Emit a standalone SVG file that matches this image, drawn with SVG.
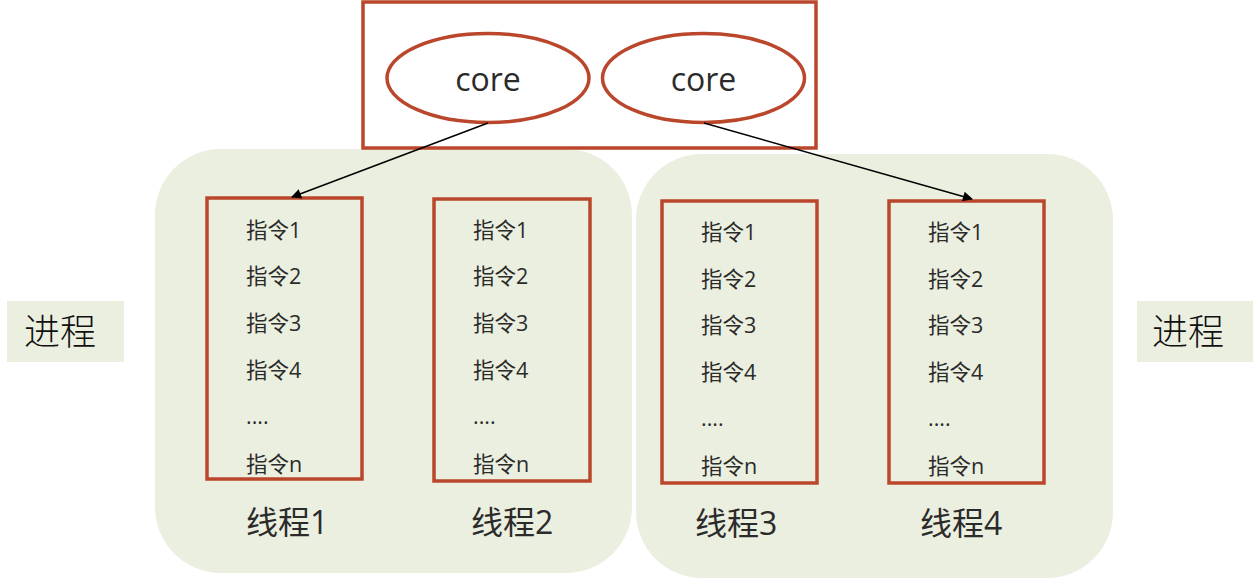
<svg xmlns="http://www.w3.org/2000/svg" width="1253" height="579" viewBox="0 0 1253 579">
<defs>
<style>
.panel{fill:#EBEFDF;stroke:none}
.red{fill:none;stroke:#BA472B;stroke-width:3.5}
.core{fill:#FFFFFF;stroke:#BA472B;stroke-width:3.5}
.t{font-family:"Open Sans","Noto Sans CJK SC",sans-serif;fill:#2b2b2b}
.ins{font-size:21.5px}
.lbl{font-size:32px}
.corel{font-size:32px;text-anchor:middle}
.proc{font-family:"Noto Sans CJK SC",sans-serif;font-size:36px;fill:#111;font-weight:300}
.conn{stroke:#000;stroke-width:1.5;fill:none}
</style>
<marker id="arr" viewBox="0 0 10 10" refX="9" refY="5" markerWidth="13" markerHeight="10" markerUnits="userSpaceOnUse" orient="auto">
<path d="M0,0 L10,5 L0,10 z" fill="#000"/>
</marker>
</defs>
<rect width="1253" height="579" fill="#fff"/>

<g id="process-left-label">
<rect x="7" y="301" width="117" height="61" class="panel"/>
<text x="24" y="345" class="proc">进程</text>
</g>
<g id="process-right-label">
<rect x="1137" y="301" width="116" height="61" class="panel"/>
<text x="1152" y="345" class="proc">进程</text>
</g>

<g id="process1">
<rect x="155" y="149" width="477" height="424" rx="66" ry="66" class="panel"/>
</g>
<g id="process2">
<rect x="636" y="154" width="477" height="424" rx="66" ry="66" class="panel"/>
</g>

<g id="cpu">
<rect x="363" y="2" width="453" height="146" class="red"/>
<g id="core1">
<ellipse cx="488" cy="78" rx="101" ry="44.5" class="core"/>
<text x="488" y="91" class="t corel">core</text>
</g>
<g id="core2">
<ellipse cx="703.5" cy="78" rx="101" ry="44.5" class="core"/>
<text x="703.5" y="91" class="t corel">core</text>
</g>
</g>

<g id="thread1">
<rect x="207" y="198" width="155" height="281" class="red"/>
<text class="t ins" x="246" y="238">指令1</text>
<text class="t ins" x="246" y="284">指令2</text>
<text class="t ins" x="246" y="331">指令3</text>
<text class="t ins" x="246" y="378">指令4</text>
<text class="t ins" x="246" y="424">....</text>
<text class="t ins" x="246" y="472">指令n</text>
<text class="t lbl" x="246" y="534">线程1</text>
</g>
<g id="thread2">
<rect x="434" y="199" width="156" height="282" class="red"/>
<text class="t ins" x="473" y="238">指令1</text>
<text class="t ins" x="473" y="284">指令2</text>
<text class="t ins" x="473" y="331">指令3</text>
<text class="t ins" x="473" y="378">指令4</text>
<text class="t ins" x="473" y="424">....</text>
<text class="t ins" x="473" y="472">指令n</text>
<text class="t lbl" x="471" y="534">线程2</text>
</g>
<g id="thread3">
<rect x="662" y="201" width="155" height="282" class="red"/>
<text class="t ins" x="701" y="240">指令1</text>
<text class="t ins" x="701" y="287">指令2</text>
<text class="t ins" x="701" y="333">指令3</text>
<text class="t ins" x="701" y="380">指令4</text>
<text class="t ins" x="701" y="426">....</text>
<text class="t ins" x="701" y="474">指令n</text>
<text class="t lbl" x="695" y="535">线程3</text>
</g>
<g id="thread4">
<rect x="889" y="201" width="155" height="282" class="red"/>
<text class="t ins" x="928" y="240">指令1</text>
<text class="t ins" x="928" y="287">指令2</text>
<text class="t ins" x="928" y="333">指令3</text>
<text class="t ins" x="928" y="380">指令4</text>
<text class="t ins" x="928" y="426">....</text>
<text class="t ins" x="928" y="474">指令n</text>
<text class="t lbl" x="920" y="535">线程4</text>
</g>

<g id="connectors">
<line x1="488" y1="123" x2="292" y2="197" class="conn" marker-end="url(#arr)"/>
<line x1="704" y1="123" x2="972" y2="199" class="conn" marker-end="url(#arr)"/>
</g>
</svg>
